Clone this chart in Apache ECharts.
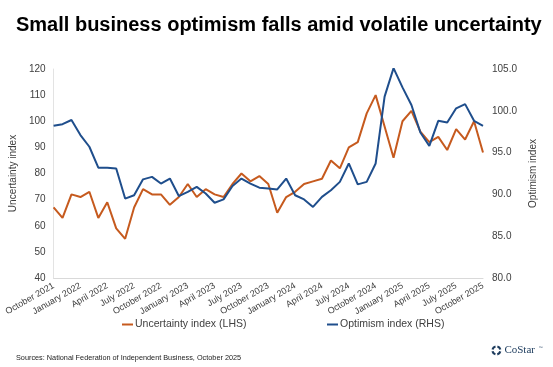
<!DOCTYPE html>
<html>
<head>
<meta charset="utf-8">
<script src="https://cdn.jsdelivr.net/npm/echarts@6/dist/echarts.min.js"></script>
<style>
  html, body { margin: 0; padding: 0; background: #fff; }
  #chart { width: 553px; height: 367px; }
</style>
</head>
<body>
<div id="chart"></div>
<script>
const months = [
  'October 2021','November 2021','December 2021',
  'January 2022','February 2022','March 2022','April 2022','May 2022','June 2022',
  'July 2022','August 2022','September 2022','October 2022','November 2022','December 2022',
  'January 2023','February 2023','March 2023','April 2023','May 2023','June 2023',
  'July 2023','August 2023','September 2023','October 2023','November 2023','December 2023',
  'January 2024','February 2024','March 2024','April 2024','May 2024','June 2024',
  'July 2024','August 2024','September 2024','October 2024','November 2024','December 2024',
  'January 2025','February 2025','March 2025','April 2025','May 2025','June 2025',
  'July 2025','August 2025','September 2025','October 2025'
];
const uncertainty = [67,63,72,71,73,63,69,59,55,67,74,72,72,68,71,76,71,74,72,71,76,80,77,79,76,65,71,73,76,77,78,85,82,90,92,103,110,98,86,100,104,96,92,94,89,97,93,100,88];
const optimism = [98.2,98.4,98.9,97.1,95.7,93.2,93.2,93.1,89.5,89.9,91.8,92.1,91.3,91.9,89.8,90.3,90.9,90.1,89.0,89.4,91.0,91.9,91.3,90.8,90.7,90.6,91.9,89.9,89.4,88.5,89.7,90.5,91.5,93.7,91.2,91.5,93.7,101.7,105.1,102.8,100.7,97.4,95.8,98.8,98.6,100.3,100.8,98.8,98.2];
const seriesNames = ['Uncertainty index (LHS)', 'Optimism index (RHS)'];

const FONT = "'Liberation Sans', Arial, sans-serif";
const ORANGE = '#C65A1E';
const BLUE = '#1F4E8C';
const TXT = '#404040';

const chart = echarts.init(document.getElementById('chart'), null, { renderer: 'canvas' });
chart.setOption({
  animation: false,
  backgroundColor: '#fff',
  textStyle: { fontFamily: FONT },
  title: {
    text: 'Small business optimism falls amid volatile uncertainty',
    left: 11, top: 10,
    textStyle: { fontSize: 20, fontWeight: 'bold', color: '#000', fontFamily: FONT }
  },
  grid: { left: 52, right: 70, top: 69, bottom: 89 },
  legend: [
    {
      data: [seriesNames[0]], left: 117, top: 314,
      icon: 'rect', itemWidth: 11, itemHeight: 2, itemGap: 4,
      textStyle: { fontSize: 10.5, color: TXT, fontFamily: FONT, padding: [0,0,0,-3] }
    },
    {
      data: [seriesNames[1]], left: 322, top: 314,
      icon: 'rect', itemWidth: 11, itemHeight: 2, itemGap: 4,
      textStyle: { fontSize: 10.5, color: TXT, fontFamily: FONT, padding: [0,0,0,-3] }
    }
  ],
  xAxis: {
    type: 'category',
    data: months,
    boundaryGap: false,
    axisLine: { show: true, lineStyle: { color: '#D9D9D9', width: 1 } },
    axisTick: { show: false },
    splitLine: { show: false },
    axisLabel: {
      interval: 2, rotate: 30, fontSize: 9, color: TXT, margin: 7, fontFamily: FONT
    }
  },
  yAxis: [
    {
      type: 'value', min: 40, max: 120, interval: 10, position: 'left',
      name: 'Uncertainty index', nameLocation: 'middle', nameGap: 25, nameRotate: 90,
      nameTextStyle: { fontSize: 10, color: TXT, fontFamily: FONT },
      axisLine: { show: true, lineStyle: { color: '#E3E3E3' } },
      axisTick: { show: false },
      splitLine: { show: false },
      axisLabel: { fontSize: 10, color: TXT, margin: 8, fontFamily: FONT }
    },
    {
      type: 'value', min: 80, max: 105, interval: 5, position: 'right',
      name: 'Optimism index', nameLocation: 'middle', nameGap: 44, nameRotate: 90,
      nameTextStyle: { fontSize: 10, color: TXT, fontFamily: FONT },
      axisLine: { show: false },
      axisTick: { show: false },
      splitLine: { show: false },
      axisLabel: { fontSize: 10, color: TXT, margin: 9, fontFamily: FONT,
        formatter: v => v.toFixed(1) }
    }
  ],
  series: [
    {
      name: seriesNames[0], type: 'line', yAxisIndex: 0, data: uncertainty,
      showSymbol: false, symbol: 'none',
      lineStyle: { color: ORANGE, width: 2 }, itemStyle: { color: ORANGE }
    },
    {
      name: seriesNames[1], type: 'line', yAxisIndex: 1, data: optimism,
      showSymbol: false, symbol: 'none',
      lineStyle: { color: BLUE, width: 2 }, itemStyle: { color: BLUE }
    }
  ],
  graphic: [
    {
      type: 'text', left: 16, top: 354,
      style: { text: 'Sources: National Federation of Independent Business, October 2025',
        fontSize: 7.3, fill: '#222', fontFamily: FONT }
    },
    {
      type: 'group', left: 490, top: 344,
      children: [
        { type: 'arc', shape: { cx: 5, cy: 5, r: 4, startAngle: 0.25, endAngle: 1.35 }, style: { stroke: '#1B3A5C', lineWidth: 2.2, fill: null } },
        { type: 'arc', shape: { cx: 5, cy: 5, r: 4, startAngle: 1.82, endAngle: 2.92 }, style: { stroke: '#1B3A5C', lineWidth: 2.2, fill: null } },
        { type: 'arc', shape: { cx: 5, cy: 5, r: 4, startAngle: 3.39, endAngle: 4.49 }, style: { stroke: '#1B3A5C', lineWidth: 2.2, fill: null } },
        { type: 'arc', shape: { cx: 5, cy: 5, r: 4, startAngle: 4.96, endAngle: 6.06 }, style: { stroke: '#1B3A5C', lineWidth: 2.2, fill: null } },
        { type: 'text', x: 13, y: -1, style: { text: 'CoStar', fontSize: 11, fill: '#1B3A5C', fontFamily: "'Liberation Serif', 'DejaVu Serif', serif" } },
        { type: 'text', x: 47, y: 0, style: { text: '™', fontSize: 4, fill: '#1B3A5C', fontFamily: FONT } }
      ]
    }
  ]
});
</script>
</body>
</html>
